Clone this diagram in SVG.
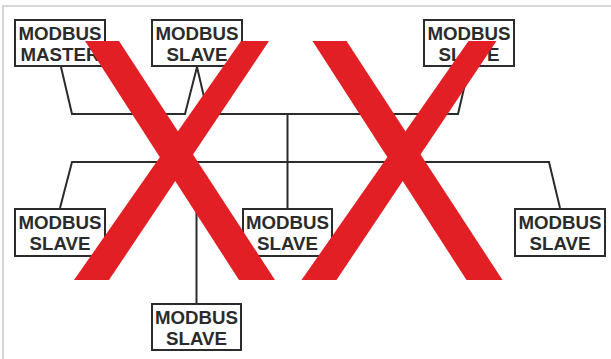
<svg xmlns="http://www.w3.org/2000/svg" width="611" height="359" viewBox="0 0 611 359">
  <style>
    .frame { stroke: #d6d6d6; stroke-width: 2; fill: none; }
    .box { fill: #ffffff; stroke: #2b2b2b; stroke-width: 2; }
    .lbl { font-family: "Liberation Sans", Arial, sans-serif; font-weight: bold; font-size: 18.7px; fill: #2b2b2b; text-anchor: middle; }
    .wire { fill: none; stroke: #2b2b2b; stroke-width: 2; stroke-linejoin: miter; }
    .cross { fill: #e31f26; }
  </style>
  <rect width="611" height="359" fill="#ffffff"/>
  <!-- partial frame: top and left edges -->
  <path class="frame" d="M3 359 V6 H611"/>

  <g id="connectors">
    <!-- upper bus chaining the master and two slaves -->
    <polyline class="wire" points="61,67 72,114 185,114 197,67 208,114 458,114 469,67"/>
    <!-- trunk to the centre slave -->
    <line class="wire" x1="287.5" y1="114" x2="287.5" y2="208"/>
    <!-- lower bus -->
    <polyline class="wire" points="60,208 72,162 549,162 560,208"/>
    <!-- drop to the bottom slave -->
    <line class="wire" x1="196.5" y1="162" x2="196.5" y2="303"/>
  </g>

  <g id="master">
    <rect class="box" x="15" y="20" width="90" height="46"/>
    <text class="lbl" x="60" y="39.5">MODBUS</text>
    <text class="lbl" x="60" y="61">MASTER</text>
  </g>
  <g id="slave-top-1">
    <rect class="box" x="152" y="20" width="90" height="46"/>
    <text class="lbl" x="197" y="39.5">MODBUS</text>
    <text class="lbl" x="197" y="61">SLAVE</text>
  </g>
  <g id="slave-top-2">
    <rect class="box" x="424" y="20" width="90" height="46"/>
    <text class="lbl" x="469" y="39.5">MODBUS</text>
    <text class="lbl" x="469" y="61">SLAVE</text>
  </g>
  <g id="slave-mid-left">
    <rect class="box" x="15" y="209" width="90" height="47"/>
    <text class="lbl" x="60" y="228.5">MODBUS</text>
    <text class="lbl" x="60" y="250">SLAVE</text>
  </g>
  <g id="slave-mid-centre">
    <rect class="box" x="243" y="209" width="89" height="47"/>
    <text class="lbl" x="287.5" y="228.5">MODBUS</text>
    <text class="lbl" x="287.5" y="250">SLAVE</text>
  </g>
  <g id="slave-mid-right">
    <rect class="box" x="515" y="209" width="90" height="47"/>
    <text class="lbl" x="560" y="228.5">MODBUS</text>
    <text class="lbl" x="560" y="250">SLAVE</text>
  </g>
  <g id="slave-bottom">
    <rect class="box" x="152" y="304" width="89" height="46"/>
    <text class="lbl" x="196.5" y="323.5">MODBUS</text>
    <text class="lbl" x="196.5" y="345">SLAVE</text>
  </g>

  <!-- red crosses over the network -->
  <defs>
    <g id="x-mark">
      <polygon class="cross" points="85,41 119,41 275,280 239,280"/>
      <polygon class="cross" points="241,41 269,41 109,280 74,280"/>
    </g>
  </defs>
  <use href="#x-mark"/>
  <use href="#x-mark" transform="translate(227.5,0)"/>
</svg>
